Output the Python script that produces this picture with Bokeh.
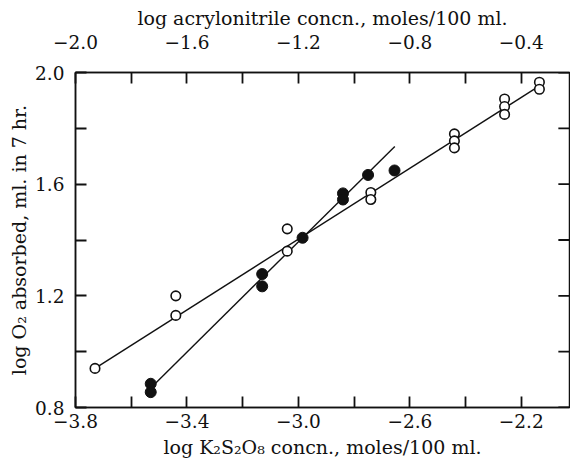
from bokeh.plotting import figure
from bokeh.models import Range1d, LinearAxis, FixedTicker, CustomJSTickFormatter
from bokeh.embed import file_html
from bokeh.resources import INLINE

# --- data ---
open_x = [-3.73, -3.44, -3.44, -3.04, -3.04, -2.74, -2.74, -2.44, -2.44, -2.44,
          -2.26, -2.26, -2.26, -2.135, -2.135]
open_y = [0.94, 1.20, 1.13, 1.44, 1.36, 1.57, 1.545, 1.78, 1.755, 1.73,
          1.905, 1.878, 1.85, 1.965, 1.94]
filled_x = [-3.53, -3.53, -3.13, -3.13, -2.985, -2.84, -2.84, -2.75, -2.655]
filled_y = [0.885, 0.855, 1.278, 1.234, 1.408, 1.567, 1.545, 1.633, 1.649]
# fitted lines (end points)
open_fit_x = [-3.73, -2.135]
open_fit_y = [0.94, 1.952]
filled_fit_x = [-3.53, -2.654]
filled_fit_y = [0.87, 1.735]

bottom_ticks = [-3.8, -3.4, -3.0, -2.6, -2.2]
bottom_minor = [-3.6, -3.2, -2.8, -2.4]
top_ticks = [-2.0, -1.6, -1.2, -0.8, -0.4]
top_minor = [-1.8, -1.4, -1.0, -0.6]
y_ticks = [0.8, 1.2, 1.6, 2.0]
y_minor = [1.0, 1.4, 1.8]

XMIN, XMAX = -3.8, -2.027
TOP_MIN, TOP_MAX = -2.0, -0.227
YMIN, YMAX = 0.8, 2.0
TICK_LEN = 11       # px, inward
TICK_DX = 0.040     # x data units (~11 px), for right-hand ticks
INK = "#111111"

FONT = "DejaVu Serif"
fmt = CustomJSTickFormatter(code="""
    var s = Math.abs(tick).toFixed(1);
    return (tick < -1e-9 ? '\u2212' : '') + s;
""")

p = figure(width=570, height=468, output_backend="svg", toolbar_location=None,
           x_range=Range1d(XMIN, XMAX), y_range=Range1d(YMIN, YMAX),
           min_border_left=75, min_border_right=1, min_border_top=72,
           min_border_bottom=61, x_axis_location=None, y_axis_location=None)
p.extra_x_ranges = {"top": Range1d(TOP_MIN, TOP_MAX)}
p.xgrid.visible = False
p.ygrid.visible = False
p.outline_line_color = INK
p.outline_line_width = 1.5


def style(ax, ticks, minor):
    ax.ticker = FixedTicker(ticks=ticks, minor_ticks=minor)
    ax.formatter = fmt
    ax.major_tick_in = TICK_LEN
    ax.major_tick_out = 0
    ax.minor_tick_in = TICK_LEN
    ax.minor_tick_out = 0
    ax.major_tick_line_color = INK
    ax.minor_tick_line_color = INK
    ax.major_tick_line_width = 1.8
    ax.minor_tick_line_width = 1.8
    ax.axis_line_width = 1.5
    ax.axis_line_color = INK
    ax.major_label_text_font = FONT
    ax.major_label_text_font_size = "18.5px"
    ax.major_label_text_color = INK
    ax.axis_label_text_font = FONT
    ax.axis_label_text_font_size = "19px"
    ax.axis_label_text_font_style = "normal"
    ax.axis_label_text_color = INK


xb = LinearAxis(axis_label="log K\u2082S\u2082O\u2088 concn., moles/100 ml.")
style(xb, bottom_ticks, bottom_minor)
xb.major_label_standoff = 6
xb.axis_label_standoff = 5
p.add_layout(xb, "below")

xt = LinearAxis(x_range_name="top", axis_label="log acrylonitrile concn., moles/100 ml.")
style(xt, top_ticks, top_minor)
xt.major_label_standoff = 24
xt.axis_label_standoff = 3
p.add_layout(xt, "above")

yl = LinearAxis(axis_label="log O\u2082 absorbed, ml. in 7 hr.")
style(yl, y_ticks, y_minor)
yl.major_label_standoff = 11
yl.axis_label_standoff = 2
p.add_layout(yl, "left")

# right-hand frame ticks (no axis there in the reference, only inward ticks)
ly = y_ticks + y_minor
p.segment(x0=[XMAX] * len(ly), x1=[XMAX - TICK_DX] * len(ly), y0=ly, y1=ly,
          line_color=INK, line_width=1.8)

p.line(open_fit_x, open_fit_y, line_color=INK, line_width=1.4)
p.line(filled_fit_x, filled_fit_y, line_color=INK, line_width=1.4)
p.scatter(open_x, open_y, marker="circle", size=9.5, fill_color="white",
          line_color=INK, line_width=1.6)
p.scatter(filled_x, filled_y, marker="circle", size=11, fill_color=INK,
          line_color=INK, line_width=1)

open("out.html", "w").write(file_html(p, INLINE))
